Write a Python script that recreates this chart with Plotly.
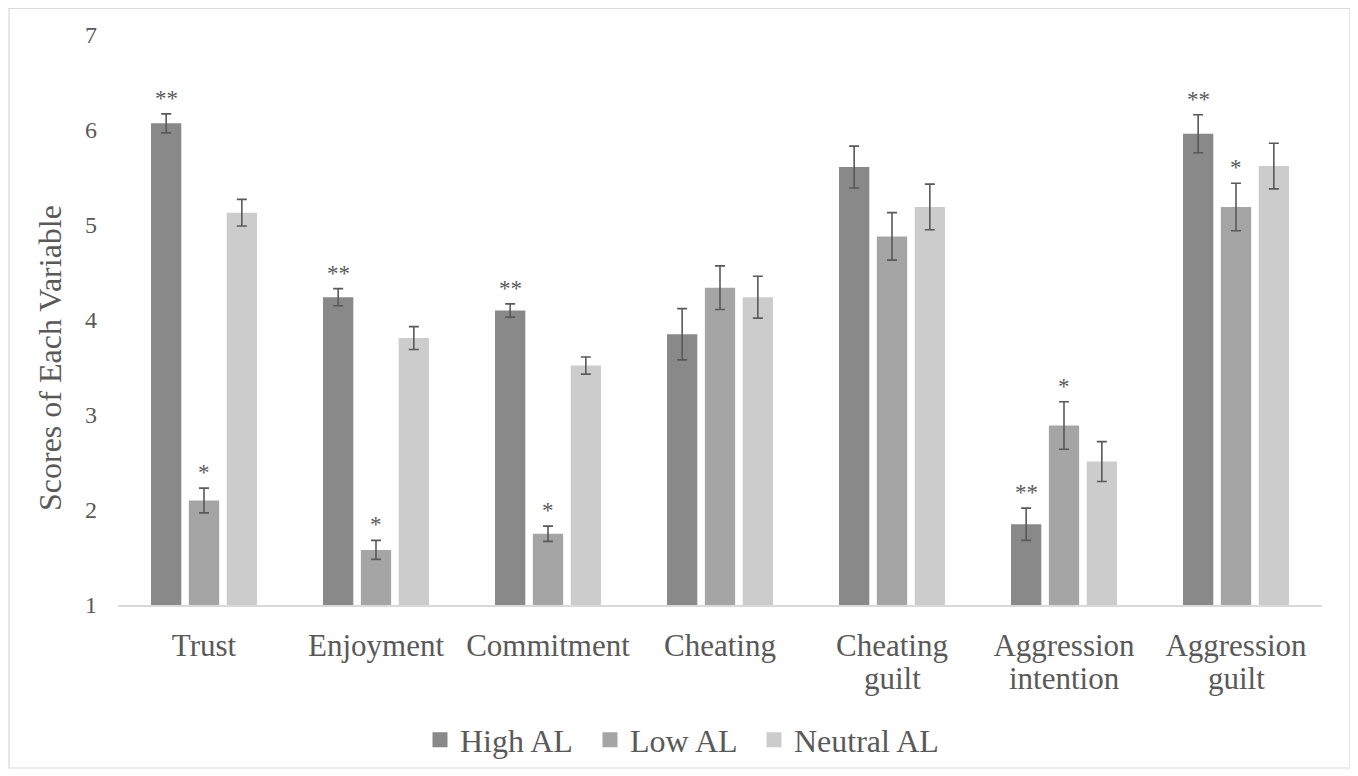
import plotly.graph_objects as go

categories = ["Trust", "Enjoyment", "Commitment", "Cheating", "Cheating guilt",
              "Aggression intention", "Aggression guilt"]
label_line1 = ["Trust", "Enjoyment", "Commitment", "Cheating", "Cheating",
               "Aggression", "Aggression"]
label_line2 = ["", "", "", "", "guilt", "intention", "guilt"]
series_names = ["High AL", "Low AL", "Neutral AL"]
y_title = "Scores of Each Variable"
y_ticks = [1, 2, 3, 4, 5, 6, 7]

high_vals = [6.07, 4.24, 4.10, 3.85, 5.61, 1.85, 5.96]
low_vals = [2.10, 1.58, 1.75, 4.34, 4.88, 2.89, 5.19]
neutral_vals = [5.13, 3.81, 3.52, 4.24, 5.19, 2.51, 5.62]

high_err = [0.10, 0.09, 0.07, 0.27, 0.22, 0.17, 0.20]
low_err = [0.13, 0.10, 0.08, 0.23, 0.25, 0.25, 0.25]
neutral_err = [0.14, 0.12, 0.09, 0.22, 0.24, 0.21, 0.24]

high_sig = ["**", "**", "**", "", "", "**", "**"]
low_sig = ["*", "*", "*", "", "", "*", "*"]
neutral_sig = ["", "", "", "", "", "", ""]

colors = ["#898989", "#a5a5a5", "#cccccc"]
font_family = "Liberation Serif, Times New Roman, serif"
text_color = "#595959"

# page has an 8px body margin; figure coordinates are page coordinates minus 8
W, H = 1344, 762
L, R, T, B = 110, 30, 27, 165
plot_w = W - L - R
plot_h = H - T - B

fig = go.Figure()
all_vals = [high_vals, low_vals, neutral_vals]
all_errs = [high_err, low_err, neutral_err]
all_sigs = [high_sig, low_sig, neutral_sig]

for name, vals, errs, col in zip(series_names, all_vals, all_errs, colors):
    fig.add_trace(go.Bar(
        name=name, x=categories, y=vals, marker=dict(color=col, line=dict(width=0)),
        error_y=dict(type="data", array=errs, visible=True, color="#595959",
                     thickness=1.6, width=5),
        showlegend=False,
    ))

# legend entries (one legend per entry so spacing can match the reference)
legend_ids = ["legend", "legend2", "legend3"]
legend_left = [422, 592, 756]  # figure px where each entry begins
for name, col, lid in zip(series_names, colors, legend_ids):
    fig.add_trace(go.Scatter(
        name=name, x=[None], y=[None], mode="markers", legend=lid,
        marker=dict(symbol="square", size=15, color=col), showlegend=True,
    ))

legend_common = dict(orientation="h", xanchor="left", yanchor="middle",
                     y=(H - B - 732) / plot_h, bgcolor="rgba(0,0,0,0)",
                     font=dict(family=font_family, size=32, color=text_color),
                     itemwidth=30)
legend_layout = {}
for lid, lx in zip(legend_ids, legend_left):
    legend_layout[lid] = dict(legend_common, x=(lx - 10 - L) / plot_w)

# significance markers
bargap = 0.34
slot = plot_w / len(categories) * (1 - bargap) / 3
for si, (vals, errs, sigs) in enumerate(zip(all_vals, all_errs, all_sigs)):
    for ci, cat in enumerate(categories):
        if sigs[ci]:
            fig.add_annotation(
                x=cat, y=vals[ci] + errs[ci], text=sigs[ci], showarrow=False,
                xshift=(si - 1) * slot, yshift=1, yanchor="bottom",
                font=dict(family=font_family, size=23, color=text_color),
            )

# second line of category labels (tighter line spacing than plotly's default)
for cat, l2 in zip(categories, label_line2):
    if l2:
        fig.add_annotation(
            x=cat, xref="x", y=0, yref="paper", yanchor="top", text=l2,
            showarrow=False, yshift=-54,
            font=dict(family=font_family, size=31, color=text_color),
        )

# y-axis title
fig.add_annotation(
    x=(42 - L) / plot_w, xref="paper", y=(H - B - 350) / plot_h, yref="paper",
    text=y_title, textangle=-90, showarrow=False, xanchor="center", yanchor="middle",
    font=dict(family=font_family, size=32, color=text_color),
)

# outer chart border
fig.add_shape(type="rect", xref="paper", yref="paper",
              x0=(1 - L) / plot_w, x1=(1342 - L) / plot_w,
              y0=(H - B - 760) / plot_h, y1=(H - B - 0.5) / plot_h,
              line=dict(color="#d9d9d9", width=1.2), fillcolor="rgba(0,0,0,0)")

fig.update_layout(
    width=W, height=H,
    margin=dict(l=L, r=R, t=T, b=B, autoexpand=False),
    paper_bgcolor="white", plot_bgcolor="white",
    barmode="group", bargap=bargap, bargroupgap=0.2,
    font=dict(family=font_family, color=text_color),
    showlegend=True,
    xaxis=dict(showline=True, linecolor="#d9d9d9", linewidth=2, showgrid=False,
               ticks="", tickmode="array", tickvals=categories, ticktext=label_line1,
               tickfont=dict(family=font_family, size=31, color=text_color),
               ticklabelstandoff=12, zeroline=False),
    yaxis=dict(range=[1, 7], tickmode="array", tickvals=y_ticks,
               showline=False, showgrid=False, zeroline=False, ticks="",
               tickfont=dict(family=font_family, size=24, color=text_color),
               ticklabelstandoff=20),
    **legend_layout,
)

fig.write_html("out.html")
